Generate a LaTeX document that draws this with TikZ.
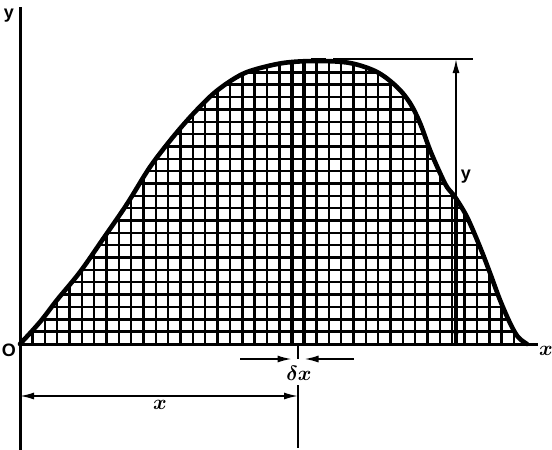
\documentclass[tikz,border=0pt]{standalone}
\usepackage{fontspec}
\setsansfont{Liberation Sans}
\usetikzlibrary{arrows.meta}
\begin{document}
\begin{tikzpicture}[x=1pt,y=-1pt,
  axis/.style={line width=3pt},
  curve/.style={line width=4.6pt, line join=round, line cap=round},
  gridl/.style={line width=2.4pt},
  stripl/.style={line width=3.6pt},
  dim/.style={line width=1.6pt},
  ahead/.tip={Latex[length=14pt,width=7pt]},
  lab/.style={font=\sffamily\bfseries\fontsize{18}{18}\selectfont, inner sep=0pt},
  mlab/.style={font=\boldmath\fontsize{21}{21}\selectfont, inner sep=0pt}]
\useasboundingbox (0,0) rectangle (552,450);
% grid clipped under the curve
\begin{scope}
  \clip plot[smooth, tension=0.55] coordinates {(20,344) (40,322) (57,300) (80,272) (103,239) (127,204) (150,167) (173,137) (193,114) (213,94) (232,80) (250,71) (283,63) (317,61) (350,63) (377,72) (397,87) (410,103) (420,123) (430,150) (440,173) (447,187) (455,197) (467,217) (480,247) (490,273) (500,300) (510,323) (518,337) (527,344)} -- cycle;
  \begin{scope}[shift={(20,344)}]
    \draw[gridl, step=12.35pt] (0,0) grid (520,-300);
  \end{scope}
  \draw[stripl] (291.7,344) -- (291.7,50);
  \draw[stripl] (304.05,344) -- (304.05,50);
  \draw[line width=3.2pt] (456,344) -- (456,180);
\end{scope}
% curve
\draw[curve] plot[smooth, tension=0.55] coordinates {(20,344) (40,322) (57,300) (80,272) (103,239) (127,204) (150,167) (173,137) (193,114) (213,94) (232,80) (250,71) (283,63) (317,61) (350,63) (377,72) (397,87) (410,103) (420,123) (430,150) (440,173) (447,187) (455,197) (467,217) (480,247) (490,273) (500,300) (510,323) (518,337) (527,344)};
\draw[line width=2.6pt] (311,59.5) -- (326,59.5);
% axes
\coordinate (o) at (20,344);
\coordinate (ytopax) at (20,7);
\coordinate (ybotax) at (20,450);
\coordinate (xend) at (538,344);
\draw[axis] (ytopax) -- (ybotax);
\draw[axis] (o) -- (xend);
\node[lab] (ylab) at (9,16) {y};
\node[lab] (olab) at (9,350) {O};
\node[mlab] (xlab) at (546,351) {$x$};
% y dimension
\coordinate (ytop) at (456,59);
\coordinate (ybot) at (456,344);
\coordinate (hl0) at (333,59);
\coordinate (hl1) at (473,59);
\draw[dim] (hl0) -- (hl1);
\draw[dim, ahead-ahead] (ytop) -- (ybot);
\node[lab] (ydim) at (466,177) {y};
% delta x
\coordinate (dl0) at (240,359);
\coordinate (dl1) at (291.5,359);
\coordinate (dr0) at (354,359);
\coordinate (dr1) at (304.5,359);
\draw[dim, -ahead] (dl0) -- (dl1);
\draw[dim, -ahead] (dr0) -- (dr1);
\node[mlab] (dx) at (299,373) {$\delta x$};
\coordinate (c0) at (298,344);
\coordinate (c1) at (298,359);
\coordinate (c2) at (298,385);
\coordinate (c3) at (298,448);
\draw[dim] (c0) -- (c1);
\draw[dim] (c2) -- (c3);
% x dimension
\coordinate (xd0) at (20,396);
\coordinate (xd1) at (298,396);
\draw[dim, ahead-ahead] (xd0) -- (xd1);
\node[mlab] (xdl) at (160,405) {$x$};
\end{tikzpicture}
\end{document}
